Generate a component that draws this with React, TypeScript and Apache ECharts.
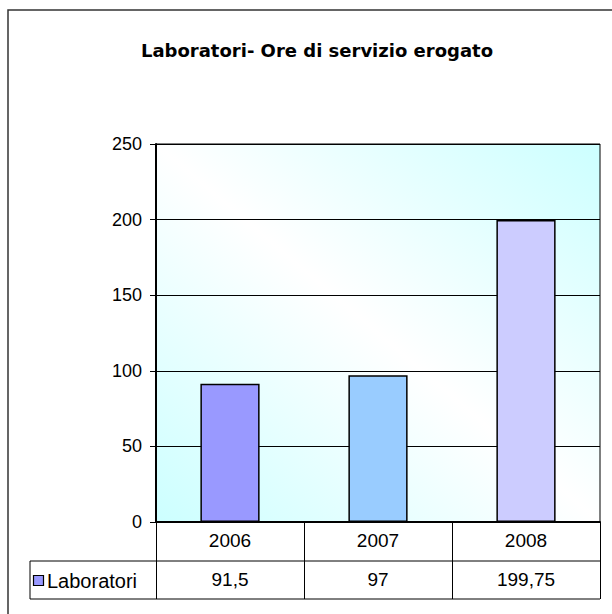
import React, { useEffect, useRef } from "react";
import * as echarts from "echarts";

const titleText = "Laboratori- Ore di servizio erogato";
const seriesName = "Laboratori";
const years = ["2006", "2007", "2008"];
const values = [91.5, 97, 199.75];
const yTicks = { min: 0, max: 250, interval: 50 };

const barColors = ["#9999ff", "#99ccff", "#ccccff"];
const FONT = "Liberation Sans, Arial, sans-serif";
const TITLE_FONT = "DejaVu Sans, Liberation Sans, Arial, sans-serif";

export default function App() {
  const ref = useRef<HTMLDivElement>(null);
  useEffect(() => {
    if (!ref.current) return;
    const chart = echarts.init(ref.current, undefined, { renderer: "svg" });
    const fmt = (v: number) => String(v).replace(".", ",");
    chart.setOption({
      animation: false,
      backgroundColor: "#fff",
      title: {
        text: titleText,
        left: 312,
        top: 36,
        textAlign: "center",
        textStyle: { fontFamily: TITLE_FONT, fontSize: 18, fontWeight: "bold", color: "#000" },
      },
      grid: {
        left: 156,
        top: 144,
        width: 444,
        height: 378,
        show: true,
        borderColor: "#000",
        borderWidth: 1,
        backgroundColor: {
          type: "linear",
          x: 0,
          y: 1,
          x2: 1,
          y2: 0,
          colorStops: [
            { offset: 0, color: "#ccffff" },
            { offset: 0.5, color: "#ffffff" },
            { offset: 1, color: "#ccffff" },
          ],
        },
      },
      xAxis: [
        {
          type: "category",
          data: years,
          position: "bottom",
          axisLine: { show: true, lineStyle: { color: "#000", width: 2 } },
          axisTick: { show: true, length: 77, lineStyle: { color: "#000", width: 1 } },
          axisLabel: { fontFamily: FONT, fontSize: 19, color: "#000", margin: 9 },
          splitLine: { show: false },
        },
        {
          type: "category",
          data: years,
          position: "bottom",
          offset: 39,
          axisLine: { show: false },
          axisTick: { show: false },
          axisLabel: {
            fontFamily: FONT,
            fontSize: 19,
            color: "#000",
            margin: 9,
            formatter: (_v: string, i: number) => fmt(values[i]),
          },
        },
      ],
      yAxis: {
        type: "value",
        min: yTicks.min,
        max: yTicks.max,
        interval: yTicks.interval,
        axisLine: { show: true, lineStyle: { color: "#000", width: 2 } },
        axisTick: { show: true, length: 6, lineStyle: { color: "#000", width: 1 } },
        axisLabel: { fontFamily: FONT, fontSize: 18, color: "#000", margin: 14 },
        splitLine: { show: true, lineStyle: { color: "#000", width: 1 } },
      },
      series: [
        {
          name: seriesName,
          type: "bar",
          xAxisIndex: 0,
          barWidth: "40%",
          data: values.map((v, i) => ({
            value: v,
            itemStyle: { color: barColors[i % barColors.length] },
          })),
          itemStyle: { borderColor: "#000", borderWidth: 1.5 },
        },
      ],
      graphic: [
        {
          type: "rect",
          shape: { x: 8, y: 10, width: 700, height: 700 },
          style: { fill: "none", stroke: "#333", lineWidth: 1.5 },
          silent: true,
        },
        {
          type: "line",
          shape: { x1: 30, y1: 561, x2: 600, y2: 561 },
          style: { stroke: "#000", lineWidth: 1 },
        },
        {
          type: "line",
          shape: { x1: 30, y1: 599, x2: 600, y2: 599 },
          style: { stroke: "#000", lineWidth: 1 },
        },
        {
          type: "line",
          shape: { x1: 30, y1: 561, x2: 30, y2: 599 },
          style: { stroke: "#000", lineWidth: 1 },
        },
        {
          type: "rect",
          shape: { x: 33.5, y: 575.5, width: 10, height: 10 },
          style: { fill: barColors[0], stroke: "#000", lineWidth: 1.2 },
        },
        {
          type: "text",
          x: 47,
          y: 581,
          style: {
            text: seriesName,
            fontFamily: FONT,
            fontSize: 20,
            fill: "#000",
            verticalAlign: "middle",
          },
        },
      ],
    });
    return () => chart.dispose();
  }, []);
  return (
    <div
      ref={ref}
      style={{ position: "absolute", left: 0, top: 0, width: 612, height: 614 }}
    />
  );
}
